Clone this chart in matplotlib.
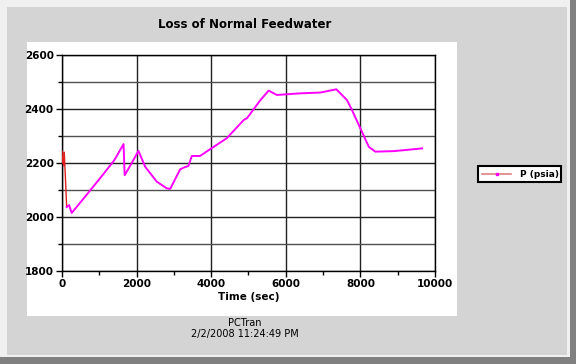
import matplotlib
matplotlib.use("Agg")
import matplotlib.pyplot as plt
from matplotlib.patches import Rectangle
from matplotlib.lines import Line2D

# Data
time_red = [0, 15, 30, 45, 60, 90, 125]
p_red = [2245, 2200, 2215, 2190, 2240, 2150, 2037]
time_sec = [125, 190, 260, 600, 1000, 1400, 1650, 1680, 1850, 2050, 2230, 2540, 2810,
            2900, 3170, 3300, 3390, 3480, 3700, 3970, 4420, 4870, 4960, 5320, 5540,
            5760, 6390, 6930, 7355, 7640, 7775, 8000, 8225, 8400, 8895, 9655]
p_psia = [2037, 2044, 2015, 2072, 2140, 2210, 2270, 2155, 2195, 2245, 2186, 2131, 2106,
          2104, 2177, 2185, 2189, 2226, 2226, 2251, 2292, 2359, 2366, 2433, 2468,
          2452, 2458, 2461, 2473, 2433, 2396, 2328, 2260, 2242, 2244, 2254]
x_ticks = [0, 2000, 4000, 6000, 8000, 10000]
y_ticks = [1800, 2000, 2200, 2400, 2600]

W, H = 576, 364
fig = plt.figure(figsize=(W / 100, H / 100), dpi=100)
fig.patch.set_facecolor("#f0f0f0")

def rect(x0, y0, x1, y1, color, z=0.0):
    fig.patches.append(Rectangle((x0 / W, 1 - y1 / H), (x1 - x0) / W, (y1 - y0) / H,
                                 transform=fig.transFigure, facecolor=color,
                                 edgecolor="none", zorder=z))

rect(570, 0, W, H, "#808080", -3)
rect(0, 357, W, H, "#808080", -3)
rect(7, 7, 567, 355, "#d4d4d4", -2)
rect(27, 42, 457, 316, "#ffffff", -1)

ax = fig.add_axes([62 / W, 1 - 271 / H, (435 - 62) / W, (271 - 55) / H])
ax.set_zorder(5)
ax.set_facecolor("white")
ax.set_xlim(0, 10000)
ax.set_ylim(1800, 2600)
ax.set_xticks(x_ticks)
ax.set_yticks(y_ticks)
ax.set_xticks([1000, 3000, 5000, 7000, 9000], minor=True)
ax.set_yticks([1900, 2100, 2300, 2500], minor=True)
ax.tick_params(which="both", direction="out", length=4, width=1, color="black",
               labelsize=7.5, pad=2)
ax.tick_params(which="minor", length=3)
for lab in ax.get_xticklabels() + ax.get_yticklabels():
    lab.set_fontweight("bold")

ax.grid(True, which="major", color="#202020", linewidth=1)
ax.yaxis.grid(True, which="minor", color="#505050", linewidth=1)
ax.set_axisbelow(True)
for s in ax.spines.values():
    s.set_color("black")
    s.set_linewidth(1)

ax.plot(time_red, p_red, color="#e02020", linewidth=1.0, zorder=3)
ax.plot(time_sec, p_psia, color="#ff00ff", linewidth=1.4, zorder=3)

ax.set_xlabel("Time (sec)", fontsize=7.5, fontweight="bold", labelpad=2)

fig.text(245 / W, 1 - 24 / H, "Loss of Normal Feedwater", ha="center", va="center",
         fontsize=8.5, fontweight="bold")
fig.text(245 / W, 1 - 323 / H, "PCTran", ha="center", va="center", fontsize=7)
fig.text(245 / W, 1 - 334 / H, "2/2/2008 11:24:49 PM", ha="center", va="center",
         fontsize=7)

# legend
rect(478, 166, 561, 182, "white", 1)
fig.patches.append(Rectangle((478 / W, 1 - 182 / H), 83 / W, 16 / H,
                             transform=fig.transFigure, facecolor="none",
                             edgecolor="black", linewidth=1.5, zorder=2))
fig.lines.append(Line2D([482 / W, 511 / W], [1 - 174 / H, 1 - 174 / H],
                        transform=fig.transFigure, color="#e08080", linewidth=1.2,
                        zorder=3))
fig.lines.append(Line2D([497 / W], [1 - 174 / H], transform=fig.transFigure,
                        color="#ff00ff", marker="s", markersize=1.5, linewidth=0, zorder=3))
fig.text(520 / W, 1 - 174 / H, "P (psia)", ha="left", va="center", fontsize=6.5,
         fontweight="bold", zorder=4)

fig.savefig("out.png", dpi=100, facecolor=fig.get_facecolor())
